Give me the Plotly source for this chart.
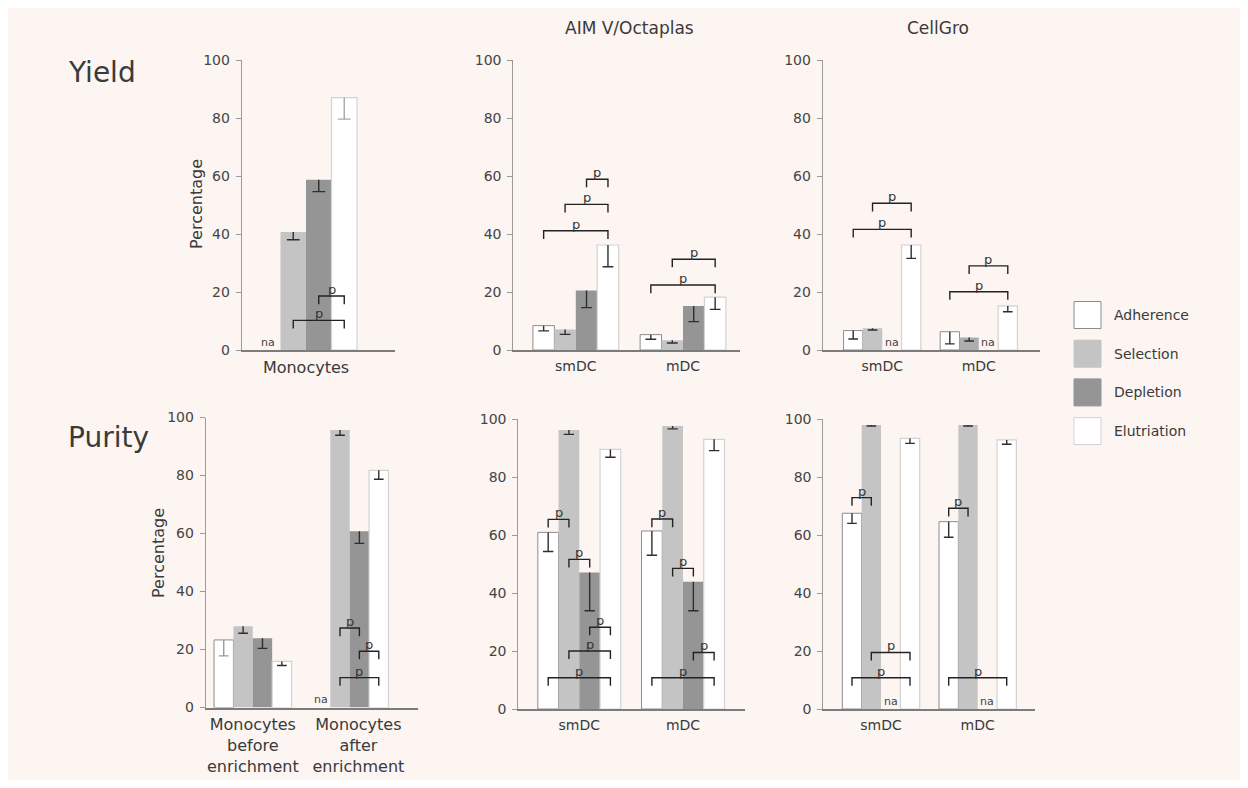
import plotly.graph_objects as go

# page keeps the browser's default 8px body margin, so the figure is 16px smaller than the window
PAGE_W, PAGE_H, OFF = 1248, 788, 8
W, H = PAGE_W - 2 * OFF, PAGE_H - 2 * OFF

# ---------------- data ----------------
series = ["Adherence", "Selection", "Depletion", "Elutriation"]

# Yield, monocytes (values per series: Adherence, Selection, Depletion, Elutriation)
yield_mono_cats = ["Monocytes"]
yield_mono = [None, 40.7, 58.7, 87.0]
yield_mono_err = [None, 2.7, 4.1, 7.4]

# Yield, AIM V/Octaplas
yield_aim_cats = ["smDC", "mDC"]
yield_aim_smdc = [8.4, 7.1, 20.5, 36.2]
yield_aim_smdc_err = [1.8, 1.7, 5.9, 7.5]
yield_aim_mdc = [5.3, 3.4, 15.2, 18.2]
yield_aim_mdc_err = [1.6, 1.0, 5.4, 4.2]

# Yield, CellGro
yield_cg_cats = ["smDC", "mDC"]
yield_cg_smdc = [6.7, 7.5, None, 36.2]
yield_cg_smdc_err = [2.9, 0.6, None, 4.6]
yield_cg_mdc = [6.3, 4.3, None, 15.2]
yield_cg_mdc_err = [4.2, 1.2, None, 2.0]

# Purity, monocytes
purity_mono_cats = ["Monocytes<br>before<br>enrichment", "Monocytes<br>after<br>enrichment"]
purity_mono_before = [23.3, 28.0, 23.9, 15.9]
purity_mono_before_err = [5.5, 2.4, 3.5, 1.4]
purity_mono_after = [None, 95.7, 60.8, 81.8]
purity_mono_after_err = [None, 1.8, 4.2, 3.1]

# Purity, AIM V/Octaplas
purity_aim_cats = ["smDC", "mDC"]
purity_aim_smdc = [60.9, 96.2, 47.1, 89.5]
purity_aim_smdc_err = [6.6, 1.5, 13.2, 2.7]
purity_aim_mdc = [61.4, 97.6, 43.9, 93.0]
purity_aim_mdc_err = [8.4, 1.0, 10.0, 3.9]

# Purity, CellGro
purity_cg_cats = ["smDC", "mDC"]
purity_cg_smdc = [67.5, 97.9, None, 93.3]
purity_cg_smdc_err = [3.5, 0.3, None, 1.7]
purity_cg_mdc = [64.6, 97.9, None, 92.8]
purity_cg_mdc_err = [5.4, 0.3, None, 1.5]

# significance brackets: (category index, from series, to series, bracket height)
yield_mono_p = [(0, 2, 3, 18.6), (0, 1, 3, 10.2)]
yield_aim_p = [(0, 0, 3, 41.1), (0, 1, 3, 50.2), (0, 2, 3, 58.9),
               (1, 0, 3, 22.4), (1, 1, 3, 31.3)]
yield_cg_p = [(0, 0, 3, 41.6), (0, 1, 3, 50.6), (1, 0, 3, 20.1), (1, 1, 3, 29.0)]
purity_mono_p = [(1, 1, 2, 27.4), (1, 2, 3, 19.4), (1, 1, 3, 10.3)]
purity_aim_p = [(0, 0, 1, 65.4), (0, 1, 2, 51.6), (0, 2, 3, 28.2), (0, 1, 3, 20.0), (0, 0, 3, 10.8),
                (1, 0, 1, 65.5), (1, 1, 2, 48.5), (1, 2, 3, 19.5), (1, 0, 3, 10.8)]
purity_cg_p = [(0, 0, 1, 72.9), (0, 1, 3, 19.5), (0, 0, 3, 10.8),
               (1, 0, 1, 69.2), (1, 0, 3, 10.8)]

y_ticks = [0, 20, 40, 60, 80, 100]

# ---------------- styles ----------------
FONT = "DejaVu Sans"
TXT = "#3a3a3a"
BG = "#fcf5f2"
fill_colors = ["#ffffff", "#c4c4c4", "#959595", "#ffffff"]
line_colors = ["#8c8c8c", "#c4c4c4", "#959595", "#d2d2d2"]
line_widths = [1, 0, 0, 1.2]
ERR = "#2e2e2e"
BAR_GAP = 0.2
bar_w = (1 - BAR_GAP) / len(series)
offsets = [(i - (len(series) - 1) / 2) * bar_w for i in range(len(series))]
LEG = 2.8   # bracket leg drop (data units)
CAP = 0.05  # half cap width (category units)


def fx(px):  # page pixel -> paper x
    return (px - OFF) / W


def fy(py):  # page pixel -> paper y
    return 1 - (py - OFF) / H


panels = [
    dict(cats=yield_mono_cats, vals=[yield_mono], errs=[yield_mono_err], p=yield_mono_p,
         px=(241.7, 395, 306, 127.5), py=(60, 350), tfs=16, tickpos=[0],
         errcol={(0, 3): "#a8a8a8"}, barcol={}),
    dict(cats=yield_aim_cats, vals=[yield_aim_smdc, yield_aim_mdc],
         errs=[yield_aim_smdc_err, yield_aim_mdc_err], p=yield_aim_p,
         px=(513.3, 740, 575.8, 107.2), py=(60, 350), tfs=14, tickpos=[0, 1],
         errcol={}, barcol={}),
    dict(cats=yield_cg_cats, vals=[yield_cg_smdc, yield_cg_mdc],
         errs=[yield_cg_smdc_err, yield_cg_mdc_err], p=yield_cg_p,
         px=(822.7, 1040, 882.2, 96.6), py=(60, 350), tfs=14, tickpos=[0, 1],
         errcol={}, barcol={(1, 1): "#adadad"}),
    dict(cats=purity_mono_cats, vals=[purity_mono_before, purity_mono_after],
         errs=[purity_mono_before_err, purity_mono_after_err], p=purity_mono_p,
         px=(205.7, 417.7, 252.8, 96.9), py=(417.5, 707.5), tfs=16, tickpos=[0, 1.09],
         errcol={(0, 0): "#9a9a9a"}, barcol={}),
    dict(cats=purity_aim_cats, vals=[purity_aim_smdc, purity_aim_mdc],
         errs=[purity_aim_smdc_err, purity_aim_mdc_err], p=purity_aim_p,
         px=(518.3, 745, 579.3, 103.7), py=(419, 709), tfs=14, tickpos=[0, 1],
         errcol={}, barcol={}),
    dict(cats=purity_cg_cats, vals=[purity_cg_smdc, purity_cg_mdc],
         errs=[purity_cg_smdc_err, purity_cg_mdc_err], p=purity_cg_p,
         px=(823.3, 1035, 881, 96.7), py=(419, 709), tfs=14, tickpos=[0, 1],
         errcol={}, barcol={}),
]

fig = go.Figure()
layout = dict(width=W, height=H, margin=dict(l=0, r=0, t=0, b=0, pad=0),
              paper_bgcolor=BG, plot_bgcolor="rgba(0,0,0,0)",
              barmode="group", bargap=BAR_GAP, bargroupgap=0,
              showlegend=False, hovermode=False,
              font=dict(family=FONT, color=TXT))
annotations = []
shapes = []

for k, p in enumerate(panels):
    sfx = "" if k == 0 else str(k + 1)
    xid, yid = "x" + sfx, "y" + sfx
    ncat = len(p["cats"])
    xs = list(range(ncat))
    # bars
    for s, name in enumerate(series):
        yv = [p["vals"][c][s] for c in xs]
        cols = [p["barcol"].get((c, s), fill_colors[s]) for c in xs]
        fig.add_trace(go.Bar(x=xs, y=yv, name=name, xaxis=xid, yaxis=yid,
                             marker=dict(color=cols, line=dict(color=line_colors[s], width=line_widths[s]))))
    # error bars (lower only)
    err_groups = {}
    for c in xs:
        for s in range(len(series)):
            m, e = p["vals"][c][s], p["errs"][c][s]
            if m is None or e is None:
                continue
            col = p["errcol"].get((c, s), ERR)
            gx, gy = err_groups.setdefault(col, ([], []))
            x0 = c + offsets[s]
            gx += [x0, x0, None, x0 - CAP, x0 + CAP, None]
            gy += [m, m - e, None, m - e, m - e, None]
    for col, (gx, gy) in err_groups.items():
        fig.add_trace(go.Scatter(x=gx, y=gy, mode="lines", xaxis=xid, yaxis=yid,
                                 line=dict(color=col, width=1.4), hoverinfo="skip"))
    # na labels
    for c in xs:
        for s in range(len(series)):
            if p["vals"][c][s] is None:
                annotations.append(dict(x=c + offsets[s], y=2.7, xref=xid, yref=yid, text="na",
                                        showarrow=False, xanchor="center", yanchor="middle",
                                        font=dict(size=11, color="#444")))
    # significance brackets
    bx, by = [], []
    for (c, s1, s2, yb) in p["p"]:
        x1, x2 = c + offsets[s1], c + offsets[s2]
        bx += [x1, x1, x2, x2, None]
        by += [yb - LEG, yb, yb, yb - LEG, None]
        annotations.append(dict(x=(x1 + x2) / 2, y=yb, xref=xid, yref=yid, text="p",
                                showarrow=False, xanchor="center", yanchor="bottom", yshift=-3,
                                font=dict(size=13, color="#333")))
    fig.add_trace(go.Scatter(x=bx, y=by, mode="lines", xaxis=xid, yaxis=yid,
                             line=dict(color="#222", width=1.4), hoverinfo="skip"))
    # axes
    a0, a1, c0, slot = p["px"]
    ytop, ybot = p["py"]
    layout["xaxis" + sfx] = dict(domain=[fx(a0), fx(a1)], range=[(a0 - c0) / slot, (a1 - c0) / slot],
                                 anchor=yid, showline=True, linecolor="#7c7c7c", linewidth=1.5,
                                 showgrid=False, zeroline=False, ticks="", automargin=False,
                                 tickvals=p["tickpos"], ticktext=p["cats"],
                                 tickfont=dict(size=p["tfs"], color=TXT), ticklabelstandoff=2)
    layout["yaxis" + sfx] = dict(domain=[fy(ybot), fy(ytop)], range=[0, 100], anchor=xid,
                                 showline=True, linecolor="#9a9a9a", linewidth=1,
                                 showgrid=False, zeroline=False, tickvals=y_ticks, automargin=False,
                                 ticks="outside", ticklen=5, tickcolor="#9a9a9a",
                                 tickfont=dict(size=14, color="#444"), ticklabelstandoff=3)


def ptxt(x, y, text, size, xanchor="center", **kw):
    d = dict(x=fx(x), y=fy(y), xref="paper", yref="paper", text=text, showarrow=False,
             xanchor=xanchor, yanchor="middle", font=dict(size=size, color=TXT))
    d.update(kw)
    annotations.append(d)


# titles
ptxt(629, 28, "AIM V/Octaplas", 17)
ptxt(938, 28, "CellGro", 17)
ptxt(66, 73, "Yield", 28, xanchor="left")
ptxt(66, 437, "Purity", 28, xanchor="left")
ptxt(196, 204, "Percentage", 16, textangle=-90)
ptxt(158, 553, "Percentage", 16, textangle=-90)

# legend
leg_top, leg_step, leg_box = 301.5, 38.7, 27
for i, name in enumerate(series):
    y0 = leg_top + i * leg_step
    shapes.append(dict(type="rect", xref="paper", yref="paper",
                       x0=fx(1074), x1=fx(1074 + leg_box),
                       y0=fy(y0 + leg_box), y1=fy(y0),
                       fillcolor=fill_colors[i],
                       line=dict(color=line_colors[i] if line_widths[i] else fill_colors[i], width=1)))
    ptxt(1112, y0 + leg_box / 2, name, 14, xanchor="left")

layout["annotations"] = annotations
layout["shapes"] = shapes
fig.update_layout(**layout)

fig.write_html("out.html", config={"displayModeBar": False})
